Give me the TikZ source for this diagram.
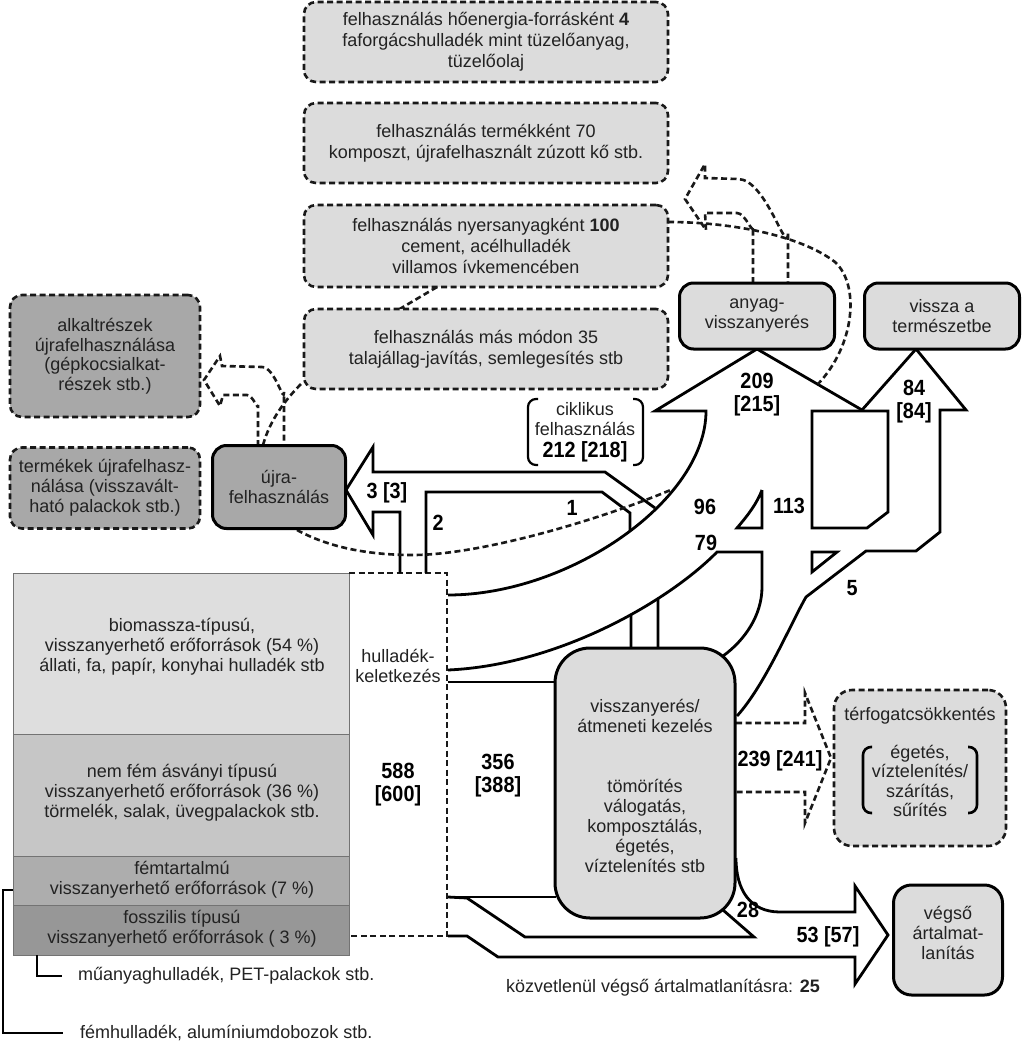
\documentclass[tikz,border=0pt]{standalone}
\usepackage{fontspec}
\setmainfont{Liberation Sans}
\newfontfamily\condb[FakeStretch=0.9]{Liberation Sans Bold}
\usetikzlibrary{intersections}
\definecolor{lightg}{HTML}{DCDCDC}
\definecolor{darkg}{HTML}{A8A8A8}
\definecolor{bio}{HTML}{DEDEDE}
\definecolor{nemfem}{HTML}{C6C6C6}
\definecolor{fem}{HTML}{ADADAD}
\definecolor{foss}{HTML}{979797}
\definecolor{txt}{HTML}{222222}
\begin{document}
\begin{tikzpicture}[x=1pt,y=-1pt,
  every node/.style={font=\fontsize{18}{20}\selectfont, text=txt, inner sep=0pt, align=center},
  dsh/.style={line width=2.6pt, dash pattern=on 6pt off 3.5pt, draw=black!90},
  dbox/.style={dsh, rounded corners=12pt, fill=lightg},
  ddbox/.style={dbox, fill=darkg},
  sbox/.style={draw=black, line width=3pt, rounded corners=14pt, fill=lightg},
  flow/.style={line width=2.8pt, line join=miter, draw=black},
  num/.style={font=\condb\fontsize{22}{23}\selectfont, text=black},
  topt/.style={font=\fontsize{18}{21}\selectfont},
  stackline/.style={draw=black!55, line width=0.8pt}
]
\useasboundingbox (0,0) rectangle (1024,1041);

% ---------- stacked resource column ----------
\fill[bio] (13,573) rectangle (349,734);
\fill[nemfem] (13,734) rectangle (349,856);
\fill[fem] (13,856) rectangle (349,905);
\fill[foss] (13,905) rectangle (349,955);
\draw[stackline] (13,573) rectangle (349,955);
\draw[stackline] (13,734) -- (349,734) (13,856) -- (349,856) (13,905) -- (349,905);
\node (bio) at (182,647) {biomassza-típusú,\\visszanyerhető erőforrások (54~\%)\\állati, fa, papír, konyhai hulladék stb};
\node (nemfem) at (182,793) {nem fém ásványi típusú\\visszanyerhető erőforrások (36~\%)\\törmelék, salak, üvegpalackok stb.};
\node (fem) at (182,880) {fémtartalmú\\visszanyerhető erőforrások (7~\%)};
\node (foss) at (182,929) {fosszilis típusú\\visszanyerhető erőforrások ( 3~\%)};

% leader lines
\coordinate (pl1) at (37,955);
\coordinate (fm1) at (13,890);
\node[anchor=west] (pet) at (78,976) {műanyaghulladék, PET-palackok stb.};
\node[anchor=west] (alu) at (80,1033) {fémhulladék, alumíniumdobozok stb.};
\draw[line width=2.2pt] (pl1) -- (37,976) -- (62,976);
\draw[line width=2.2pt] (fm1) -- (3,890) -- (3,1033) -- (63,1033);

% ---------- hulladék dashed box ----------
\draw[dsh] (349,573) -- (447,573) -- (447,936) -- (349,936);
\node (hk) at (398,666) {hulladék-\\keletkezés};
\node[num] (n588) at (398,785) {588\\{[600]}};

% ---------- flows ----------
% 3[3] arrow to reuse
\draw[flow] (655,508) -- (605,472) -- (373,472) -- (373,447) -- (346,490) -- (373,535) -- (373,512) -- (400,512) -- (400,573);
\draw[flow] (426,573) -- (426,492) -- (602,492) -- (630,513) -- (630,531);
% C1 + arrowheads 209 / 84 + 5 curve
\draw[flow] (448,595) .. controls (570,595) and (706,500) .. (706,411) -- (655,411) -- (757,349) -- (862,410) -- (916,349) -- (966,410) -- (940,410) -- (940,532) -- (916,551) -- (866,551) -- (806,597) .. controls (790,625) and (765,685) .. (737,716);
% C2 + 79 band
\draw[flow, name path=ctwo] (448,670) .. controls (560,665) and (670,600) .. (717,552) -- (762,552) -- (762,587) .. controls (762,615) and (745,640) .. (723,656);
\path[name path=vone] (631,560) -- (631,660);
\path[name path=vtwo] (658,560) -- (658,660);
\path[name intersections={of=ctwo and vone,by=ione}];
\path[name intersections={of=ctwo and vtwo,by=itwo}];
\draw[flow] (ione) -- (631,650);
\draw[flow] (itwo) -- (658,650);
% holes
\draw[flow] (762,490) -- (762,528) -- (737,528) .. controls (749,514) and (757,503) .. (762,490);
\draw[flow] (812,411) -- (888,411) -- (888,512) -- (867,528) -- (812,528) -- cycle;
\draw[flow] (812,552) -- (837,552) -- (812,572) -- cycle;
% 356 band
\draw[flow] (448,682) -- (556,682);
\draw[flow] (448,897) -- (556,897);
% 25 / 28 / 53
\draw[flow] (448,897) -- (467,898) -- (525,937) -- (754,937) -- (723,910);
\draw[flow] (448,936) -- (467,936) -- (498,957) -- (855,957) -- (855,984) -- (888,935) -- (855,886) -- (855,912) -- (780,912) .. controls (750,912) and (736,890) .. (736,858);

% ---------- dashed connectors ----------
\draw[dsh] (297,530) .. controls (330,548) and (370,555) .. (413,555) .. controls (480,555) and (600,520) .. (673,489);
\draw[dsh] (668,222) .. controls (730,222) and (800,235) .. (835,262) .. controls (860,285) and (855,345) .. (818,384);
\draw[dsh] (437,287) -- (398,310);
\draw[dsh] (263,445) .. controls (270,420) and (285,400) .. (302,383);
% reuse -> alkatrészek arrow
\draw[dsh] (258,446) -- (258,405) to[out=-90,in=0] (247,395) -- (223,395) -- (220,406) -- (204,380) -- (220,356) -- (222,366) -- (262,367) to[out=0,in=-90] (284,392) -- (284,446);
% anyag -> top arrow
\draw[dsh] (753,283) -- (753,227) to[out=-90,in=0] (737,213) -- (705,213) -- (706,230) -- (685,199) -- (705,164) -- (705,178) -- (738,179) to[out=0,in=-90] (788,232) -- (788,283);
% 239 arrow
\draw[dsh] (736,723) -- (805,723) -- (805,693) -- (831,758) -- (805,823) -- (805,792) -- (736,792);

% ---------- boxes ----------
\node[dbox, topt, minimum width=364pt, minimum height=80pt] (hoen) at (486,42) {felhasználás hőenergia-forrásként \textbf{4}\\faforgácshulladék mint tüzelőanyag,\\tüzelőolaj};
\node[dbox, topt, minimum width=364pt, minimum height=80pt] (termk) at (486,143) {felhasználás termékként 70\\komposzt, újrafelhasznált zúzott kő stb.};
\node[dbox, topt, minimum width=364pt, minimum height=82pt] (nyers) at (486,246) {felhasználás nyersanyagként \textbf{100}\\cement, acélhulladék\\villamos ívkemencében};
\node[dbox, topt, minimum width=364pt, minimum height=80pt] (mas) at (486,349) {felhasználás más módon 35\\talajállag-javítás, semlegesítés stb};

\node[ddbox, font=\fontsize{18}{19.5}\selectfont, minimum width=190pt, minimum height=122pt] (alkat) at (105,356) {alkaltrészek\\újrafelhasználása\\(gépkocsialkat-\\részek stb.)};
\node[ddbox, minimum width=190pt, minimum height=81pt] (termekek) at (105,488) {termékek újrafelhasz-\\nálása (visszavált-\\ható palackok stb.)};
\node[sbox, fill=darkg, minimum width=133pt, minimum height=83pt] (ujra) at (279,487) {újra-\\felhasználás};

\node[sbox, minimum width=155pt, minimum height=66pt] (anyag) at (757,316) {anyag-\\visszanyerés};
\node[sbox, minimum width=155pt, minimum height=66pt] (vissza) at (942,316) {vissza a\\természetbe};

\node[sbox, rounded corners=35pt, minimum width=180pt, minimum height=270pt] (kezel) at (645,783) {};
\node (kezelt) at (645,786) {visszanyerés/\\átmeneti kezelés\\[40pt]tömörítés\\válogatás,\\komposztálás,\\égetés,\\víztelenítés stb};

\node[dbox, rounded corners=18pt, minimum width=172pt, minimum height=156pt] (terf) at (920,768) {};
\node (terft) at (920,716) {térfogatcsökkentés};
\node[font=\fontsize{18}{19.3}\selectfont] (terfi) at (920,781) {égetés,\\víztelenítés/\\szárítás,\\sűrítés};
\draw[line width=2.6pt, rounded corners=8pt] (872,747) -- (863,747) -- (863,813) -- (872,813);
\draw[line width=2.6pt, rounded corners=8pt] (968,747) -- (977,747) -- (977,813) -- (968,813);

\node[sbox, rounded corners=18pt, minimum width=109pt, minimum height=110pt] (vegso) at (948,940) {};
\node (vegsot) at (948,933) {végső\\ártalmat-\\lanítás};

% ciklikus label
\draw[line width=2.2pt, rounded corners=8pt] (538,399) -- (528,399) -- (528,465) -- (538,465);
\draw[line width=2.2pt, rounded corners=8pt] (633,399) -- (643,399) -- (643,465) -- (633,465);
\node (cik1) at (585,409) {ciklikus};
\node (cik2) at (585,429) {felhasználás};
\node[num] (cik3) at (585,452) {212 [218]};

% ---------- numbers ----------
\node[num] (l3) at (387,493) {3 [3]};
\node[num] (l2) at (438,523) {2};
\node[num] (l1) at (572,508) {1};
\node[num] (l96) at (705,507) {96};
\node[num] (l113) at (789,506) {113};
\node[num] (l79) at (706,543) {79};
\node[num] (l5) at (852,588) {5};
\node[num] (l209) at (757,395) {209\\{[215]}};
\node[num] (l84) at (914,402) {84\\{[84]}};
\node[num] (l356) at (498,776) {356\\{[388]}};
\node[num] (l239) at (780,761) {239 [241]};
\node[num] (l28) at (748,910) {28};
\node[num] (l53) at (828,937) {53 [57]};
\node (kozv) at (663,988) {közvetlenül végső ártalmatlanításra: \textbf{25}};
\end{tikzpicture}
\end{document}
